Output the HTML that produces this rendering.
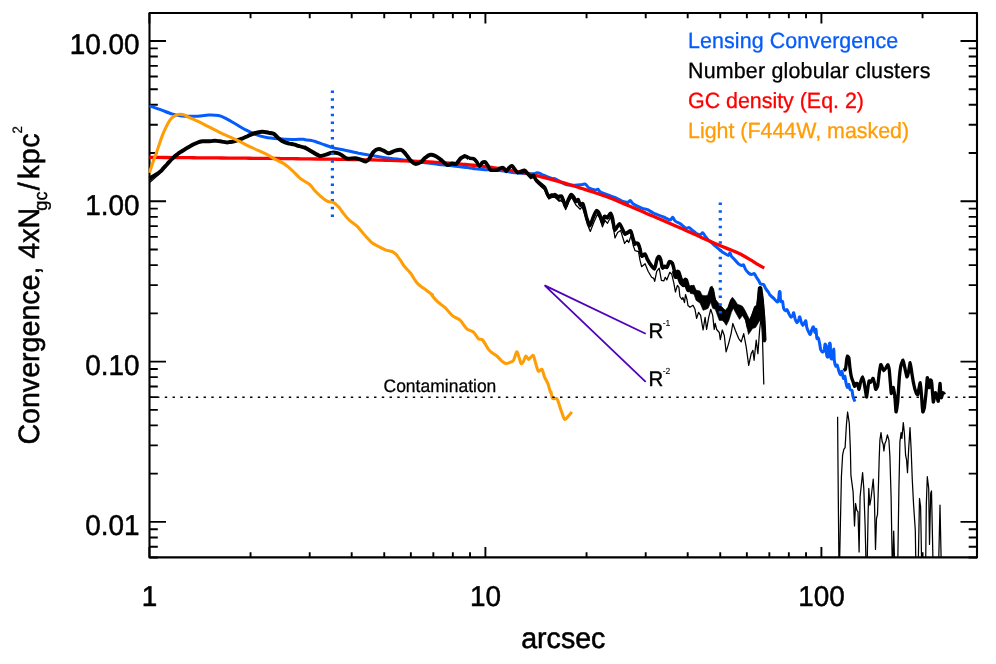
<!DOCTYPE html>
<html><head><meta charset="utf-8"><title>plot</title>
<style>
html,body{margin:0;padding:0;background:#fff;}
svg{display:block;font-family:"Liberation Sans",sans-serif;-webkit-font-smoothing:antialiased;text-rendering:geometricPrecision;}
#wrap{width:996px;height:664px;will-change:transform;transform:translateZ(0);background:#fff;}
</style></head><body>
<div id="wrap">
<svg width="996" height="664" viewBox="0 0 996 664">
<defs><clipPath id="cp"><rect x="148.3" y="12.0" width="829.9" height="545.9"/></clipPath></defs>
<rect width="996" height="664" fill="#fff"/>
<rect x="149.5" y="13.0" width="827.5" height="544.4" fill="none" stroke="#000" stroke-width="2.1" stroke-linejoin="round"/>
<path d="M149.40 557.4 v-10.5 M149.40 13.0 v10.5 M250.55 557.4 v-5.2 M250.55 13.0 v5.2 M309.71 557.4 v-5.2 M309.71 13.0 v5.2 M351.69 557.4 v-5.2 M351.69 13.0 v5.2 M384.25 557.4 v-5.2 M384.25 13.0 v5.2 M410.86 557.4 v-5.2 M410.86 13.0 v5.2 M433.35 557.4 v-5.2 M433.35 13.0 v5.2 M452.84 557.4 v-5.2 M452.84 13.0 v5.2 M470.03 557.4 v-5.2 M470.03 13.0 v5.2 M485.40 557.4 v-10.5 M485.40 13.0 v10.5 M586.55 557.4 v-5.2 M586.55 13.0 v5.2 M645.71 557.4 v-5.2 M645.71 13.0 v5.2 M687.69 557.4 v-5.2 M687.69 13.0 v5.2 M720.25 557.4 v-5.2 M720.25 13.0 v5.2 M746.86 557.4 v-5.2 M746.86 13.0 v5.2 M769.35 557.4 v-5.2 M769.35 13.0 v5.2 M788.84 557.4 v-5.2 M788.84 13.0 v5.2 M806.03 557.4 v-5.2 M806.03 13.0 v5.2 M821.40 557.4 v-10.5 M821.40 13.0 v10.5 M922.55 557.4 v-5.2 M922.55 13.0 v5.2 M149.5 557.46 h8.3 M977.0 557.46 h-8.3 M149.5 546.73 h8.3 M977.0 546.73 h-8.3 M149.5 537.43 h8.3 M977.0 537.43 h-8.3 M149.5 529.23 h8.3 M977.0 529.23 h-8.3 M149.5 521.90 h16.5 M977.0 521.90 h-16.5 M149.5 473.64 h8.3 M977.0 473.64 h-8.3 M149.5 445.42 h8.3 M977.0 445.42 h-8.3 M149.5 425.39 h8.3 M977.0 425.39 h-8.3 M149.5 409.86 h8.3 M977.0 409.86 h-8.3 M149.5 397.16 h8.3 M977.0 397.16 h-8.3 M149.5 386.43 h8.3 M977.0 386.43 h-8.3 M149.5 377.13 h8.3 M977.0 377.13 h-8.3 M149.5 368.93 h8.3 M977.0 368.93 h-8.3 M149.5 361.60 h16.5 M977.0 361.60 h-16.5 M149.5 313.34 h8.3 M977.0 313.34 h-8.3 M149.5 285.12 h8.3 M977.0 285.12 h-8.3 M149.5 265.09 h8.3 M977.0 265.09 h-8.3 M149.5 249.56 h8.3 M977.0 249.56 h-8.3 M149.5 236.86 h8.3 M977.0 236.86 h-8.3 M149.5 226.13 h8.3 M977.0 226.13 h-8.3 M149.5 216.83 h8.3 M977.0 216.83 h-8.3 M149.5 208.63 h8.3 M977.0 208.63 h-8.3 M149.5 201.30 h16.5 M977.0 201.30 h-16.5 M149.5 153.04 h8.3 M977.0 153.04 h-8.3 M149.5 124.82 h8.3 M977.0 124.82 h-8.3 M149.5 104.79 h8.3 M977.0 104.79 h-8.3 M149.5 89.26 h8.3 M977.0 89.26 h-8.3 M149.5 76.56 h8.3 M977.0 76.56 h-8.3 M149.5 65.83 h8.3 M977.0 65.83 h-8.3 M149.5 56.53 h8.3 M977.0 56.53 h-8.3 M149.5 48.33 h8.3 M977.0 48.33 h-8.3 M149.5 41.00 h16.5 M977.0 41.00 h-16.5" stroke="#000" stroke-width="1.9" fill="none"/>
<g clip-path="url(#cp)">
<path d="M149.5 105.9 C151.1 106.5 158.8 109.0 161.7 110.1 C164.7 111.2 169.1 113.2 171.8 113.9 C174.4 114.7 178.7 115.6 181.8 115.9 C184.9 116.3 191.6 116.4 195.2 116.3 C198.7 116.2 205.4 115.2 208.5 115.1 C211.6 115.0 216.3 115.2 218.6 115.6 C220.8 116.0 223.0 117.0 225.2 118.1 C227.5 119.2 232.6 122.3 235.3 123.8 C237.9 125.3 242.6 128.2 245.3 129.7 C248.0 131.1 252.7 133.3 255.3 134.3 C258.0 135.3 262.2 136.6 265.4 137.2 C268.5 137.8 275.2 138.5 278.7 138.8 C282.3 139.2 288.8 139.5 292.1 139.5 C295.5 139.6 302.1 139.1 303.8 139.2 C305.5 139.2 303.9 139.6 305.0 139.8 C306.1 140.0 309.5 139.9 311.7 140.5 C313.9 141.0 318.9 142.8 321.7 143.8 C324.5 144.8 329.5 146.8 332.6 147.6 C335.7 148.5 341.7 149.4 345.1 150.2 C348.6 150.9 354.9 152.4 358.5 153.2 C362.1 153.9 368.3 154.9 371.9 155.5 C375.4 156.1 381.7 157.2 385.2 157.7 C388.8 158.2 395.1 158.9 398.6 159.3 C402.2 159.8 408.4 160.7 412.0 161.2 C415.6 161.6 421.8 162.3 425.4 162.7 C428.9 163.1 435.2 164.0 438.7 164.4 C442.3 164.8 448.5 165.3 452.1 165.7 C455.7 166.1 463.8 167.2 465.5 167.4 C467.2 167.6 463.7 166.9 465.0 167.1 C466.3 167.3 472.4 168.5 475.0 168.8 C477.7 169.1 481.9 169.5 485.1 169.7 C488.2 169.8 494.4 169.7 498.4 170.2 C502.4 170.6 510.7 172.2 515.1 172.7 C519.6 173.2 529.0 173.8 531.9 173.8 C534.8 173.9 535.9 172.9 536.9 172.8 C537.9 172.7 538.5 172.8 539.4 173.2 C540.3 173.5 541.9 174.5 543.6 175.2 C545.2 175.9 550.4 178.0 551.9 178.5 C553.5 179.0 553.5 178.1 555.3 178.8 C557.1 179.6 562.6 183.5 565.3 184.4 C568.0 185.2 573.1 185.2 575.3 185.2 C577.6 185.2 580.7 184.7 582.0 184.6 C583.4 184.4 584.5 183.6 585.4 184.1 C586.3 184.5 587.4 187.0 588.7 187.8 C590.0 188.6 594.2 189.9 595.4 190.1 C596.6 190.2 597.2 189.0 597.9 189.2 C598.6 189.5 599.2 191.4 600.4 192.1 C601.6 192.9 605.1 194.0 607.1 194.7 C609.1 195.5 613.4 196.9 615.5 197.7 C617.5 198.6 620.5 200.5 622.1 201.1 C623.8 201.8 627.6 202.3 628.0 202.5 C628.4 202.7 625.0 202.7 625.0 202.6 C625.0 202.5 627.6 202.2 628.3 202.0 C629.1 201.7 629.7 200.4 630.4 200.6 C631.0 200.9 631.8 203.0 633.4 204.0 C634.9 205.0 639.8 207.3 641.7 208.1 C643.6 208.9 646.0 209.1 647.6 209.7 C649.1 210.4 651.3 212.0 653.4 213.0 C655.5 214.0 661.2 216.1 663.5 217.0 C665.7 217.9 668.9 219.9 670.1 219.9 C671.4 219.9 672.0 217.1 672.6 217.2 C673.3 217.4 674.2 220.2 675.1 221.0 C676.1 221.9 679.1 223.1 680.0 223.6 C680.9 224.2 681.2 224.5 682.0 225.1 C682.8 225.7 685.1 227.8 686.0 228.1 C687.0 228.5 688.3 227.3 689.1 227.6 C689.9 227.9 691.2 229.4 692.1 230.1 C693.1 230.9 695.1 232.6 696.1 233.2 C697.2 233.8 699.3 234.7 700.2 234.7 C701.1 234.6 702.0 232.5 702.7 232.7 C703.4 232.9 704.5 235.2 705.2 236.2 C706.0 237.1 707.2 238.6 708.2 239.7 C709.3 240.8 712.1 243.2 713.3 244.3 C714.5 245.3 716.4 247.0 717.3 247.8 C718.3 248.6 719.4 249.6 720.4 250.3 C721.3 251.1 723.3 252.7 724.4 253.3 C725.5 254.0 727.7 255.4 728.4 255.4 C729.2 255.3 729.5 252.7 730.0 252.8 C730.4 253.0 730.9 255.5 731.5 256.4 C732.1 257.2 733.5 258.4 734.5 259.4 C735.4 260.4 737.6 263.1 738.5 263.9 C739.5 264.7 740.9 265.3 741.5 265.4 C742.2 265.6 743.0 264.4 743.6 264.9 C744.1 265.5 744.9 268.4 745.6 269.5 C746.3 270.6 747.8 272.3 748.6 273.0 C749.4 273.7 750.9 274.5 751.6 274.5 C752.4 274.6 753.5 273.1 754.2 273.5 C754.8 273.9 756.1 276.6 756.7 277.6 C757.3 278.5 758.2 279.7 758.7 280.6 C759.2 281.5 760.0 283.5 760.6 284.1 C761.3 284.6 763.0 284.0 763.7 284.6 C764.3 285.2 765.0 287.5 765.7 288.6 C766.4 289.7 768.1 291.8 768.7 292.7 C769.3 293.5 769.3 294.3 770.0 295.1 C770.7 295.9 773.1 297.7 774.0 298.6 C775.0 299.6 776.5 302.1 777.1 302.1 C777.7 302.2 778.3 300.4 778.6 299.1 C778.9 297.8 779.1 293.2 779.3 292.3 C779.5 291.4 779.9 291.1 780.1 292.3 C780.3 293.5 780.3 299.9 780.6 301.1 C780.9 302.4 782.2 300.7 782.6 301.6 C783.0 302.6 783.2 307.0 783.6 308.2 C784.0 309.4 785.2 310.5 785.6 310.7 C786.1 310.9 786.7 309.2 787.1 309.7 C787.6 310.2 788.6 313.3 789.2 314.3 C789.7 315.3 790.7 317.2 791.2 317.3 C791.7 317.4 792.4 315.9 792.7 315.3 C793.0 314.7 793.4 312.2 793.7 312.8 C794.0 313.3 794.8 318.0 795.2 319.3 C795.7 320.7 796.8 322.8 797.2 322.8 C797.7 322.8 798.4 320.1 798.8 319.3 C799.1 318.5 799.4 316.4 799.8 316.8 C800.1 317.2 800.9 321.2 801.3 322.3 C801.7 323.5 802.4 325.2 802.8 325.4 C803.2 325.5 803.9 324.0 804.3 323.4 C804.7 322.7 805.5 320.3 805.8 320.8 C806.2 321.4 806.4 325.8 806.8 327.4 C807.2 328.9 808.4 331.5 808.9 332.4 C809.3 333.4 810.0 334.9 810.4 334.4 C810.8 334.0 811.5 330.4 811.9 329.4 C812.3 328.4 813.0 326.5 813.4 326.9 C813.8 327.3 814.6 332.1 814.9 332.4 C815.2 332.8 815.6 328.6 815.9 329.4 C816.2 330.2 816.6 337.3 816.9 338.5 C817.3 339.6 818.0 337.0 818.4 338.0 C818.8 338.9 819.7 344.0 820.0 345.5 C820.2 347.1 820.3 348.7 820.7 349.6 C821.1 350.5 822.2 352.0 822.7 352.1 C823.2 352.2 823.9 351.1 824.2 350.1 C824.5 349.0 824.8 344.8 825.0 344.2 C825.3 343.7 825.8 344.6 826.0 346.1 C826.3 347.5 826.4 353.7 826.7 355.1 C827.0 356.6 827.9 358.1 828.2 356.6 C828.6 355.2 829.0 345.9 829.3 344.2 C829.5 342.6 830.1 342.5 830.3 344.2 C830.5 346.0 830.5 355.8 830.8 357.7 C831.0 359.5 831.9 359.3 832.3 358.2 C832.7 357.0 833.5 348.8 833.8 349.1 C834.1 349.3 834.0 357.9 834.3 360.2 C834.6 362.5 835.4 365.6 835.8 366.2 C836.2 366.9 836.9 364.6 837.3 365.2 C837.7 365.9 838.4 370.0 838.9 371.3 C839.3 372.6 840.0 374.8 840.4 374.8 C840.8 374.8 841.5 370.8 841.9 371.3 C842.3 371.8 843.0 377.7 843.4 378.4 C843.8 379.0 844.6 375.8 844.9 376.3 C845.2 376.9 845.6 380.9 845.9 382.4 C846.2 383.9 847.0 387.2 847.4 387.4 C847.8 387.7 848.6 384.1 848.9 384.4 C849.3 384.7 849.5 388.6 850.0 389.4 C850.4 390.3 851.6 389.5 852.0 390.4 C852.4 391.4 852.6 395.0 853.0 396.5 C853.4 398.0 854.7 400.9 855.0 401.6" stroke="#045cfc" stroke-width="3.0" fill="none" stroke-linejoin="round" stroke-linecap="butt" />
<path d="M149.4 157.4 C150.7 157.4 154.7 157.4 157.4 157.4 C160.1 157.5 162.7 157.5 165.4 157.5 C168.1 157.5 170.7 157.5 173.4 157.6 C176.1 157.6 178.7 157.6 181.4 157.6 C184.1 157.7 186.7 157.7 189.4 157.7 C192.1 157.7 194.7 157.8 197.4 157.8 C200.1 157.8 202.7 157.8 205.4 157.8 C208.1 157.9 210.7 157.9 213.4 157.9 C216.1 157.9 218.7 158.0 221.4 158.0 C224.1 158.0 226.7 158.0 229.4 158.1 C232.1 158.1 234.7 158.1 237.4 158.1 C240.1 158.2 242.7 158.2 245.4 158.2 C248.1 158.2 250.7 158.3 253.4 158.3 C256.1 158.3 258.7 158.3 261.4 158.4 C264.1 158.4 266.7 158.4 269.4 158.4 C272.1 158.5 274.7 158.5 277.4 158.5 C280.1 158.5 282.7 158.6 285.4 158.6 C288.1 158.6 290.7 158.7 293.4 158.7 C296.1 158.7 298.7 158.8 301.4 158.8 C304.1 158.8 306.7 158.8 309.4 158.9 C312.1 158.9 314.7 158.9 317.4 159.0 C320.1 159.0 322.7 159.1 325.4 159.1 C328.1 159.1 330.7 159.2 333.4 159.2 C336.1 159.2 338.7 159.3 341.4 159.3 C344.1 159.4 346.7 159.4 349.4 159.5 C352.1 159.5 354.7 159.6 357.4 159.6 C360.1 159.7 362.7 159.7 365.4 159.8 C368.1 159.8 370.7 159.9 373.4 159.9 C376.1 160.0 378.7 160.1 381.4 160.1 C384.1 160.2 386.7 160.3 389.4 160.4 C392.1 160.4 394.7 160.5 397.4 160.6 C400.1 160.7 402.7 160.8 405.4 160.9 C408.1 161.0 410.7 161.1 413.4 161.2 C416.1 161.3 418.7 161.4 421.4 161.5 C424.1 161.7 426.7 161.8 429.4 161.9 C432.1 162.1 434.7 162.2 437.4 162.4 C440.1 162.5 442.7 162.7 445.4 162.9 C448.1 163.1 450.7 163.2 453.4 163.4 C456.1 163.7 458.7 163.9 461.4 164.1 C464.1 164.3 466.7 164.6 469.4 164.8 C472.1 165.1 474.7 165.4 477.4 165.7 C480.1 166.0 482.7 166.3 485.4 166.6 C488.1 167.0 490.7 167.3 493.4 167.7 C496.1 168.0 498.7 168.4 501.4 168.8 C504.1 169.3 506.7 169.7 509.4 170.2 C512.1 170.6 514.7 171.1 517.4 171.6 C520.1 172.1 522.7 172.6 525.4 173.2 C528.1 173.8 530.7 174.3 533.4 174.9 C536.1 175.5 538.7 176.2 541.4 176.8 C544.1 177.5 546.7 178.2 549.4 178.9 C552.1 179.6 554.7 180.3 557.4 181.1 C560.1 181.8 562.7 182.6 565.4 183.4 C568.1 184.2 570.7 185.0 573.4 185.8 C576.1 186.7 578.7 187.5 581.4 188.3 C584.1 189.2 586.7 190.0 589.4 190.9 C592.1 191.7 594.7 192.6 597.4 193.5 C600.1 194.4 602.7 195.3 605.4 196.3 C608.1 197.3 610.7 198.3 613.4 199.3 C616.1 200.4 618.7 201.5 621.4 202.6 C624.1 203.7 626.7 204.8 629.4 206.0 C632.1 207.1 634.7 208.3 637.4 209.4 C640.1 210.6 642.7 211.8 645.4 212.9 C648.1 214.1 650.7 215.2 653.4 216.3 C656.1 217.5 658.7 218.6 661.4 219.7 C664.1 220.9 666.7 222.0 669.4 223.2 C672.1 224.4 674.7 225.5 677.4 226.7 C680.1 227.9 682.7 229.1 685.4 230.2 C688.1 231.4 690.7 232.6 693.4 233.8 C696.1 235.0 698.7 236.2 701.4 237.4 C704.1 238.6 706.7 239.8 709.4 241.0 C712.1 242.2 713.9 243.1 717.4 244.6 C720.9 246.1 727.3 248.5 730.5 249.8 C733.7 251.1 734.5 251.4 736.5 252.3 C738.5 253.2 740.2 253.9 742.6 255.2 C745.0 256.5 748.1 258.4 750.6 259.9 C753.1 261.4 755.4 263.0 757.7 264.4 C760.0 265.8 763.2 267.4 764.3 268.0" stroke="#ff0000" stroke-width="3.3" fill="none" stroke-linejoin="round" stroke-linecap="butt" />
<path d="M149.5 182.6 L152.0 180.5 L155.0 177.9 L158.0 175.1 L161.0 171.9 L163.5 168.2 L167.1 164.2 L170.6 160.3 L174.2 156.8 L177.7 154.0 L181.2 151.6 L184.8 149.4 L188.3 147.3 L191.8 145.2 L195.4 143.5 L198.9 142.0 L202.5 141.3 L206.0 141.3 L209.5 141.3 L213.1 140.9 L216.6 140.9 L220.2 141.3 L223.7 141.9 L227.2 142.4 L230.0 142.0 L232.8 141.6 L237.8 140.1 L241.9 138.6 L247.0 136.5 L253.7 133.5 L262.0 131.8 L268.7 132.7 L273.7 133.8 L277.9 137.7 L282.1 141.0 L288.8 143.5 L293.8 144.4 L298.8 146.0 L304.6 147.7 L305.0 147.6 L311.7 151.5 L320.1 156.0 L326.7 154.3 L331.8 152.7 L337.6 153.2 L341.8 155.2 L346.8 158.5 L355.1 158.2 L360.2 159.3 L366.0 161.5 L369.4 158.5 L373.5 151.8 L378.6 149.0 L383.6 150.7 L388.6 153.2 L395.3 150.7 L401.1 149.8 L405.3 153.5 L410.3 160.2 L415.3 163.9 L421.2 161.8 L425.4 157.7 L430.4 154.8 L435.4 156.0 L440.4 159.3 L447.1 164.9 L452.1 163.5 L456.3 163.9 L460.5 158.5 L463.8 156.5 L465.0 156.2 L469.0 158.2 L473.6 159.9 L476.6 162.9 L479.6 167.4 L482.1 163.9 L485.2 163.2 L487.7 166.4 L490.2 171.0 L493.2 171.5 L497.3 171.3 L500.3 169.4 L503.4 168.9 L506.4 172.5 L508.9 168.9 L511.9 166.9 L514.5 170.0 L517.5 173.7 L521.5 173.5 L524.5 172.3 L527.6 175.3 L530.6 178.6 L533.6 177.5 L535.6 181.6 L538.7 184.6 L541.7 187.2 L544.7 189.9 L546.7 195.0 L548.8 199.0 L551.8 197.5 L554.8 197.3 L557.8 200.0 L559.9 201.1 L562.4 199.0 L563.9 203.1 L555.0 197.1 L559.0 201.2 L562.1 199.1 L564.1 204.2 L565.6 209.7 L568.6 202.2 L571.6 197.1 L575.7 204.7 L580.2 209.2 L582.2 206.7 L585.3 216.3 L587.3 224.3 L590.3 231.4 L593.9 222.3 L597.4 214.3 L599.9 218.3 L602.4 226.9 L605.0 220.3 L607.5 223.3 L610.5 217.3 L613.0 225.4 L615.0 238.0 L617.6 232.4 L620.6 230.4 L624.6 243.5 L627.1 240.0 L628.7 242.5 L631.2 235.4 L633.2 245.5 L635.0 250.6 L638.5 251.6 L640.0 260.2 L641.6 266.7 L645.1 263.7 L648.1 271.3 L651.6 277.3 L653.7 278.4 L654.7 281.4 L656.7 271.3 L659.2 268.2 L661.4 280.4 L663.8 280.9 L665.3 277.3 L666.8 279.9 L669.8 272.3 L671.8 274.3 L673.9 283.4 L675.4 292.0 L677.4 285.4 L678.9 287.4 L679.9 296.5 L681.9 299.5 L682.9 297.5 L684.5 302.6 L685.5 294.5 L687.0 299.5 L688.0 305.6 L690.0 307.3 L693.0 305.3 L695.0 309.3 L696.6 318.4 L698.6 312.3 L700.6 315.4 L703.1 330.0 L705.1 317.4 L706.6 329.5 L708.7 317.4 L710.7 309.3 L712.7 315.4 L714.2 329.5 L715.2 323.4 L716.7 329.5 L719.3 332.5 L720.3 339.6 L722.3 330.0 L724.3 335.5 L726.1 351.9 L728.6 343.6 L731.1 333.6 L732.8 323.5 L735.3 330.2 L738.7 338.6 L741.2 341.9 L743.7 333.6 L746.2 346.9 L748.7 365.3 L751.2 353.6 L752.9 350.3 L754.1 360.3 L756.2 340.2 L757.9 353.6 L759.6 330.2 L761.2 316.8 L762.4 335.2 L763.8 384.4" stroke="#000" stroke-width="1.25" fill="none" stroke-linejoin="round" stroke-linecap="butt" />
<path d="M149.5 180.6 C149.8 180.3 151.3 179.3 152.0 178.7 C152.7 178.1 154.2 177.0 155.0 176.4 C155.8 175.8 157.2 174.6 158.0 173.9 C158.8 173.2 160.3 171.8 161.0 171.1 C161.7 170.3 162.7 169.0 163.5 168.1 C164.3 167.2 166.2 165.2 167.1 164.2 C168.0 163.1 169.7 161.3 170.6 160.3 C171.5 159.3 173.3 157.7 174.2 156.8 C175.1 156.0 176.8 154.7 177.7 154.0 C178.6 153.3 180.3 152.2 181.2 151.6 C182.1 151.0 183.9 150.0 184.8 149.4 C185.7 148.8 187.4 147.8 188.3 147.3 C189.2 146.7 190.9 145.7 191.8 145.2 C192.7 144.7 194.5 143.9 195.4 143.5 C196.3 143.1 198.0 142.3 198.9 142.0 C199.8 141.8 201.6 141.4 202.5 141.3 C203.4 141.2 205.1 141.4 206.0 141.3 C206.9 141.3 208.6 141.4 209.5 141.3 C210.4 141.2 212.2 141.0 213.1 140.9 C214.0 140.8 215.7 140.8 216.6 140.9 C217.5 141.0 219.3 141.2 220.2 141.3 C221.1 141.4 222.8 141.8 223.7 141.9 C224.6 142.0 226.4 142.4 227.2 142.4 C228.0 142.4 229.3 142.1 230.0 142.0 C230.7 141.9 231.8 141.9 232.8 141.6 C233.8 141.3 236.6 140.5 237.8 140.1 C239.0 139.7 240.7 139.1 241.9 138.6 C243.1 138.1 245.4 137.2 247.0 136.5 C248.5 135.8 251.7 134.1 253.7 133.5 C255.7 132.9 260.0 131.9 262.0 131.8 C264.0 131.7 267.1 132.4 268.7 132.7 C270.3 132.9 272.5 133.2 273.7 133.8 C274.9 134.5 276.8 136.7 277.9 137.7 C279.0 138.6 280.6 140.2 282.1 141.0 C283.5 141.8 287.2 143.1 288.8 143.5 C290.3 144.0 292.4 144.0 293.8 144.4 C295.1 144.7 297.4 145.6 298.8 146.0 C300.2 146.5 303.8 147.5 304.6 147.7 C305.5 147.9 304.1 147.1 305.0 147.6 C305.9 148.1 309.7 150.4 311.7 151.5 C313.7 152.6 318.0 155.6 320.1 156.0 C322.1 156.4 325.2 154.8 326.7 154.3 C328.3 153.9 330.3 152.8 331.8 152.7 C333.2 152.5 336.3 152.8 337.6 153.2 C338.9 153.5 340.6 154.5 341.8 155.2 C343.0 155.9 345.0 158.1 346.8 158.5 C348.6 158.9 353.4 158.1 355.1 158.2 C356.9 158.3 358.7 158.9 360.2 159.3 C361.6 159.8 364.8 161.6 366.0 161.5 C367.2 161.4 368.4 159.8 369.4 158.5 C370.4 157.2 372.3 153.1 373.5 151.8 C374.8 150.5 377.2 149.1 378.6 149.0 C379.9 148.8 382.2 150.1 383.6 150.7 C384.9 151.2 387.0 153.2 388.6 153.2 C390.1 153.2 393.6 151.1 395.3 150.7 C396.9 150.2 399.8 149.4 401.1 149.8 C402.5 150.2 404.1 152.1 405.3 153.5 C406.5 154.9 409.0 158.8 410.3 160.2 C411.7 161.6 413.9 163.6 415.3 163.9 C416.8 164.1 419.8 162.7 421.2 161.8 C422.5 161.0 424.1 158.6 425.4 157.7 C426.6 156.7 429.0 155.1 430.4 154.8 C431.7 154.6 434.1 155.4 435.4 156.0 C436.7 156.6 438.9 158.2 440.4 159.3 C442.0 160.5 445.5 164.3 447.1 164.9 C448.6 165.4 450.9 163.7 452.1 163.5 C453.3 163.4 455.2 164.5 456.3 163.9 C457.4 163.2 459.5 159.5 460.5 158.5 C461.5 157.5 463.2 156.8 463.8 156.5 C464.4 156.2 464.3 155.9 465.0 156.2 C465.7 156.4 467.9 157.8 469.0 158.2 C470.2 158.5 472.6 158.3 473.6 158.8 C474.6 159.2 475.8 160.8 476.6 161.8 C477.4 162.9 478.9 166.3 479.6 166.4 C480.4 166.6 481.4 163.5 482.1 163.0 C482.9 162.4 484.4 162.0 485.2 162.3 C485.9 162.7 487.0 164.6 487.7 165.6 C488.4 166.7 489.5 169.5 490.2 170.2 C491.0 170.9 492.3 170.7 493.2 170.8 C494.2 170.8 496.3 170.9 497.3 170.7 C498.2 170.4 499.5 169.2 500.3 168.9 C501.1 168.6 502.5 168.0 503.4 168.5 C504.2 168.9 505.6 172.0 506.4 172.1 C507.1 172.1 508.2 169.3 508.9 168.6 C509.6 167.9 511.2 166.5 511.9 166.6 C512.7 166.8 513.7 168.8 514.5 169.7 C515.2 170.6 516.7 173.1 517.5 173.5 C518.3 173.9 519.6 172.8 520.5 172.6 C521.4 172.3 523.6 171.2 524.5 171.4 C525.5 171.7 526.8 173.7 527.6 174.5 C528.4 175.4 529.8 177.3 530.6 177.6 C531.4 177.9 532.9 176.3 533.6 176.7 C534.3 177.1 535.0 179.8 535.6 180.8 C536.3 181.7 537.9 183.1 538.7 183.8 C539.5 184.6 540.9 186.0 541.7 186.7 C542.5 187.4 544.0 188.2 544.7 189.2 C545.4 190.2 546.2 193.1 546.7 194.3 C547.3 195.5 548.1 198.0 548.8 198.3 C549.4 198.6 551.0 197.0 551.8 196.8 C552.6 196.6 554.4 196.8 554.8 196.8 C555.2 196.7 554.6 196.2 555.0 196.4 C555.4 196.6 557.2 198.2 558.0 198.4 C558.9 198.6 560.8 197.3 561.6 197.9 C562.3 198.5 563.0 201.5 563.6 202.9 C564.1 204.4 565.0 208.6 565.6 208.5 C566.2 208.4 567.4 203.6 568.1 201.9 C568.9 200.3 570.4 196.8 571.1 196.4 C571.9 196.0 573.1 198.0 573.7 198.9 C574.3 199.8 575.1 202.6 575.7 202.9 C576.3 203.3 577.6 201.0 578.2 201.4 C578.8 201.9 579.6 205.9 580.2 206.5 C580.8 207.0 582.1 204.7 582.8 205.5 C583.4 206.2 584.2 210.1 584.8 212.0 C585.3 214.0 586.1 218.1 586.8 220.1 C587.5 222.1 589.0 227.2 589.8 227.2 C590.6 227.2 592.0 222.1 592.8 220.1 C593.7 218.1 595.5 213.1 596.4 212.5 C597.2 211.9 598.6 214.0 599.4 215.6 C600.2 217.1 601.8 223.8 602.4 224.1 C603.1 224.5 603.8 218.8 604.5 218.1 C605.1 217.4 606.7 219.5 607.5 219.1 C608.3 218.7 609.8 214.9 610.5 215.1 C611.2 215.2 612.0 217.9 612.5 220.1 C613.1 222.3 613.9 230.1 614.5 231.2 C615.1 232.3 616.4 229.4 617.1 228.7 C617.7 227.9 618.9 225.4 619.6 225.7 C620.3 225.9 621.4 228.9 622.1 230.2 C622.8 231.5 623.9 234.7 624.6 235.2 C625.4 235.8 626.8 234.6 627.6 234.2 C628.5 233.9 630.0 232.0 630.7 232.7 C631.4 233.4 632.2 237.6 632.7 239.3 C633.2 241.0 634.4 244.6 634.7 245.3 C635.0 246.1 634.6 244.8 635.0 244.8 C635.4 244.8 637.4 244.5 638.0 245.3 C638.7 246.1 639.6 249.3 640.0 250.9 C640.5 252.5 640.9 256.8 641.6 257.4 C642.2 258.1 644.3 255.4 645.1 255.9 C645.9 256.5 646.8 260.0 647.6 261.5 C648.4 263.0 650.2 265.9 651.1 267.0 C652.1 268.2 653.9 270.7 654.7 270.1 C655.4 269.4 656.2 263.5 656.7 262.0 C657.2 260.4 658.2 258.5 658.7 258.4 C659.2 258.4 660.3 260.1 660.7 261.5 C661.2 262.9 661.7 268.2 662.2 269.1 C662.8 269.9 664.1 268.1 664.8 268.0 C665.4 268.0 666.7 269.1 667.3 268.5 C667.9 267.9 668.6 264.0 669.3 263.5 C670.0 263.0 671.7 263.8 672.3 265.0 C673.0 266.2 673.9 270.8 674.4 272.6 C674.8 274.3 675.4 277.9 675.9 278.1 C676.3 278.3 677.4 273.8 677.9 274.1 C678.4 274.4 679.4 278.8 679.9 280.1 C680.4 281.5 680.9 283.4 681.4 284.2 C681.9 285.0 682.9 286.5 683.4 286.2 C684.0 285.9 685.0 282.0 685.5 282.2 C685.9 282.3 686.6 286.0 687.0 287.2 C687.4 288.4 688.3 290.7 688.5 291.2" stroke="#000" stroke-width="1.25" fill="none" stroke-linejoin="round" stroke-linecap="butt" />
<path d="M837.6 416.7 L837.9 455.0 L838.9 562.0 M839.6 562.0 L841.4 476.7 L842.6 455.2 L843.8 449.3 L845.1 447.6 L846.4 425.1 L847.6 412.0 L849.3 423.4 L850.4 450.1 L850.9 475.1 L853.1 491.8 L854.5 526.0 L855.6 503.5 L856.8 510.2 L858.0 511.8 L859.1 552.0 L860.1 496.8 L862.6 472.6 L863.8 488.4 L865.1 525.2 L866.0 562.0 M867.2 562.0 L868.2 510.2 L868.8 488.4 L869.8 505.1 L871.0 498.5 L873.2 479.2 L874.4 498.5 L875.5 549.5 L876.5 518.5 L877.5 514.4 L878.5 483.4 L879.2 458.5 L879.9 440.1 L881.0 432.6 L882.2 441.8 L883.2 444.3 L883.9 451.0 L884.9 443.5 L886.0 441.0 L887.4 434.8 L888.9 440.1 L889.9 456.8 L891.1 496.8 L892.2 562.0 M892.9 562.0 L893.7 531.1 L894.6 562.0 M897.8 562.0 L898.9 488.4 L899.4 466.9 L899.9 441.8 L901.1 432.6 L901.9 438.4 L903.3 422.6 L904.4 433.4 L905.6 455.2 L906.6 460.2 L907.5 472.7 L908.6 450.1 L910.0 427.6 L911.1 448.5 L912.3 480.1 L913.6 505.1 L915.3 530.2 L915.8 562.0 M918.3 562.0 L919.5 498.5 L920.6 506.8 L921.6 562.0 M925.7 562.0 L926.3 505.1 L927.3 476.7 L928.7 488.4 L929.5 544.4 L930.7 493.4 L931.5 490.9 L932.5 538.6 L933.0 562.0 M938.7 562.0 L940.0 505.1 L941.2 562.0" stroke="#000" stroke-width="1.25" fill="none" stroke-linejoin="round" stroke-linecap="butt" />
<path d="M149.5 178.3 C149.8 178.1 151.3 177.3 152.0 176.9 C152.7 176.5 154.2 175.7 155.0 175.2 C155.8 174.7 157.2 173.9 158.0 173.3 C158.8 172.7 160.3 171.7 161.0 171.1 C161.7 170.4 162.7 169.0 163.5 168.1 C164.3 167.2 166.2 165.2 167.1 164.2 C168.0 163.1 169.7 161.3 170.6 160.3 C171.5 159.3 173.3 157.7 174.2 156.8 C175.1 156.0 176.8 154.7 177.7 154.0 C178.6 153.3 180.3 152.2 181.2 151.6 C182.1 151.0 183.9 150.0 184.8 149.4 C185.7 148.8 187.4 147.8 188.3 147.3 C189.2 146.7 190.9 145.7 191.8 145.2 C192.7 144.7 194.5 143.9 195.4 143.5 C196.3 143.1 198.0 142.3 198.9 142.0 C199.8 141.8 201.6 141.4 202.5 141.3 C203.4 141.2 205.1 141.4 206.0 141.3 C206.9 141.3 208.6 141.4 209.5 141.3 C210.4 141.2 212.2 141.0 213.1 140.9 C214.0 140.8 215.7 140.8 216.6 140.9 C217.5 141.0 219.3 141.2 220.2 141.3 C221.1 141.4 222.8 141.8 223.7 141.9 C224.6 142.0 226.4 142.4 227.2 142.4 C228.0 142.4 229.3 142.1 230.0 142.0 C230.7 141.9 231.8 141.9 232.8 141.6 C233.8 141.3 236.6 140.5 237.8 140.1 C239.0 139.7 240.7 139.1 241.9 138.6 C243.1 138.1 245.4 137.2 247.0 136.5 C248.5 135.8 251.7 134.1 253.7 133.5 C255.7 132.9 260.0 131.9 262.0 131.8 C264.0 131.7 267.1 132.4 268.7 132.7 C270.3 132.9 272.5 133.2 273.7 133.8 C274.9 134.5 276.8 136.7 277.9 137.7 C279.0 138.6 280.6 140.2 282.1 141.0 C283.5 141.8 287.2 143.1 288.8 143.5 C290.3 144.0 292.4 144.0 293.8 144.4 C295.1 144.7 297.4 145.6 298.8 146.0 C300.2 146.5 303.8 147.5 304.6 147.7 C305.5 147.9 304.1 147.1 305.0 147.6 C305.9 148.1 309.7 150.4 311.7 151.5 C313.7 152.6 318.0 155.6 320.1 156.0 C322.1 156.4 325.2 154.8 326.7 154.3 C328.3 153.9 330.3 152.8 331.8 152.7 C333.2 152.5 336.3 152.8 337.6 153.2 C338.9 153.5 340.6 154.5 341.8 155.2 C343.0 155.9 345.0 158.1 346.8 158.5 C348.6 158.9 353.4 158.1 355.1 158.2 C356.9 158.3 358.7 158.9 360.2 159.3 C361.6 159.8 364.8 161.6 366.0 161.5 C367.2 161.4 368.4 159.8 369.4 158.5 C370.4 157.2 372.3 153.1 373.5 151.8 C374.8 150.5 377.2 149.1 378.6 149.0 C379.9 148.8 382.2 150.1 383.6 150.7 C384.9 151.2 387.0 153.2 388.6 153.2 C390.1 153.2 393.6 151.1 395.3 150.7 C396.9 150.2 399.8 149.4 401.1 149.8 C402.5 150.2 404.1 152.1 405.3 153.5 C406.5 154.9 409.0 158.8 410.3 160.2 C411.7 161.6 413.9 163.6 415.3 163.9 C416.8 164.1 419.8 162.7 421.2 161.8 C422.5 161.0 424.1 158.6 425.4 157.7 C426.6 156.7 429.0 155.1 430.4 154.8 C431.7 154.6 434.1 155.4 435.4 156.0 C436.7 156.6 438.9 158.2 440.4 159.3 C442.0 160.5 445.5 164.3 447.1 164.9 C448.6 165.4 450.9 163.7 452.1 163.5 C453.3 163.4 455.2 164.5 456.3 163.9 C457.4 163.2 459.5 159.5 460.5 158.5 C461.5 157.5 463.2 156.8 463.8 156.5 C464.4 156.2 464.3 155.9 465.0 156.2 C465.7 156.4 468.5 157.9 469.0 158.2" stroke="#000" stroke-width="3.95" fill="none" stroke-linejoin="round" stroke-linecap="butt" />
<path d="M469.0 158.2 C469.6 158.2 472.6 158.2 473.6 158.7 C474.6 159.1 475.8 160.7 476.6 161.7 C477.4 162.7 478.9 166.1 479.6 166.2 C480.4 166.4 481.4 163.3 482.1 162.7 C482.9 162.1 484.4 161.7 485.2 162.0 C485.9 162.3 487.0 164.2 487.7 165.2 C488.4 166.3 489.5 169.1 490.2 169.8 C491.0 170.4 492.3 170.2 493.2 170.3 C494.2 170.3 496.3 170.3 497.3 170.1 C498.2 169.8 499.5 168.6 500.3 168.2 C501.1 167.9 502.5 167.3 503.4 167.8 C504.2 168.2 505.6 171.3 506.4 171.3 C507.1 171.3 508.2 168.5 508.9 167.8 C509.6 167.0 511.2 165.6 511.9 165.7 C512.7 165.9 513.7 167.9 514.5 168.8 C515.2 169.7 516.7 172.1 517.5 172.5 C518.3 172.9 519.6 171.8 520.5 171.5 C521.4 171.2 523.6 170.0 524.5 170.3 C525.5 170.5 526.8 172.5 527.6 173.3 C528.4 174.1 529.8 176.1 530.6 176.3 C531.4 176.6 532.9 174.9 533.6 175.3 C534.3 175.7 535.0 178.4 535.6 179.3 C536.3 180.3 537.9 181.6 538.7 182.4 C539.5 183.1 540.9 184.2 541.7 184.9 C542.5 185.6 544.0 186.4 544.7 187.4 C545.4 188.4 546.2 191.3 546.7 192.5 C547.3 193.7 548.1 196.2 548.8 196.5 C549.4 196.8 551.0 195.2 551.8 195.0 C552.6 194.8 554.4 195.0 554.8 195.0 C555.2 194.9 554.6 194.4 555.0 194.6 C555.4 194.8 557.2 196.4 558.0 196.6 C558.9 196.8 560.8 195.5 561.6 196.1 C562.3 196.7 563.0 199.7 563.6 201.2 C564.1 202.6 565.0 206.8 565.6 206.7 C566.2 206.6 567.4 201.8 568.1 200.1 C568.9 198.5 570.4 195.0 571.1 194.6 C571.9 194.2 573.1 196.2 573.7 197.1 C574.3 198.0 575.1 200.8 575.7 201.2 C576.3 201.5 577.6 199.2 578.2 199.6 C578.8 200.1 579.6 204.1 580.2 204.7 C580.8 205.2 582.1 202.9 582.8 203.7 C583.4 204.4 584.2 208.3 584.8 210.2 C585.3 212.2 586.1 216.3 586.8 218.3 C587.5 220.3 589.0 225.4 589.8 225.4 C590.6 225.4 592.0 220.3 592.8 218.3 C593.7 216.3 595.5 211.3 596.4 210.7 C597.2 210.1 598.6 212.2 599.4 213.8 C600.2 215.3 601.8 222.0 602.4 222.3 C603.1 222.7 603.8 217.0 604.5 216.3 C605.1 215.6 606.7 217.7 607.5 217.3 C608.3 216.9 609.8 213.1 610.5 213.2 C611.2 213.4 612.0 216.1 612.5 218.3 C613.1 220.5 613.9 228.3 614.5 229.4 C615.1 230.5 616.4 227.6 617.1 226.9 C617.7 226.1 618.9 223.6 619.6 223.8 C620.3 224.1 621.4 227.1 622.1 228.4 C622.8 229.7 623.9 232.9 624.6 233.4 C625.4 234.0 626.8 232.8 627.6 232.4 C628.5 232.1 630.0 230.2 630.7 230.9 C631.4 231.6 632.2 235.8 632.7 237.5 C633.2 239.2 634.4 242.8 634.7 243.5 C635.0 244.3 634.6 243.0 635.0 243.0 C635.4 243.0 637.4 242.7 638.0 243.5 C638.7 244.3 639.6 247.5 640.0 249.1 C640.5 250.7 640.9 255.0 641.6 255.6 C642.2 256.3 644.3 253.6 645.1 254.1 C645.9 254.7 646.8 258.2 647.6 259.7 C648.4 261.2 650.2 264.1 651.1 265.2 C652.1 266.4 653.9 268.9 654.7 268.2 C655.4 267.6 656.2 261.7 656.7 260.2 C657.2 258.6 658.2 256.7 658.7 256.6 C659.2 256.6 660.3 258.3 660.7 259.7 C661.2 261.1 661.7 266.4 662.2 267.2 C662.8 268.1 664.1 266.3 664.8 266.2 C665.4 266.2 666.7 267.3 667.3 266.7 C667.9 266.1 668.6 262.2 669.3 261.7 C670.0 261.2 671.7 262.0 672.3 263.2 C673.0 264.4 673.9 269.0 674.4 270.8 C674.8 272.5 675.4 276.1 675.9 276.3 C676.3 276.5 677.4 272.0 677.9 272.3 C678.4 272.6 679.4 277.0 679.9 278.4 C680.4 279.7 680.9 281.6 681.4 282.4 C681.9 283.2 682.9 284.7 683.4 284.4 C684.0 284.1 685.0 280.2 685.5 280.4 C685.9 280.5 686.6 284.2 687.0 285.4 C687.4 286.6 687.9 289.0 688.5 289.4 C689.0 289.9 690.8 288.5 691.0 288.4 C691.2 288.4 689.9 289.0 690.0 289.1 C690.1 289.3 691.5 289.5 692.0 289.6 C692.6 289.8 693.6 289.8 694.0 290.1 C694.4 290.4 694.8 291.4 695.0 291.8 C695.3 292.3 695.8 293.1 696.0 293.5 C696.3 293.9 696.7 294.8 697.1 295.2 C697.4 295.6 698.2 296.3 698.6 296.7 C699.0 297.1 699.8 297.8 700.1 298.2 C700.4 298.6 700.8 299.4 701.1 299.9 C701.4 300.3 701.8 301.1 702.1 301.6 C702.4 302.0 702.8 303.0 703.1 303.2 C703.5 303.5 704.2 303.6 704.6 303.8 C705.0 303.9 705.8 304.4 706.1 304.3 C706.5 304.1 706.8 303.0 707.0 302.6 C707.2 302.1 707.6 301.3 707.8 300.9 C708.1 300.5 708.5 299.7 708.7 299.2 C708.8 298.8 709.0 297.9 709.2 297.4 C709.3 297.0 709.5 296.2 709.7 295.7 C709.8 295.2 710.1 294.4 710.2 293.9 C710.3 293.4 710.5 292.6 710.7 292.1 C710.9 291.7 711.2 291.0 711.5 290.6 C711.7 290.2 712.0 289.1 712.2 289.1 C712.4 289.2 712.5 290.6 712.6 291.1 C712.7 291.7 712.9 292.6 713.0 293.2 C713.1 293.7 713.2 294.6 713.3 295.2 C713.4 295.7 713.6 296.7 713.7 297.2 C713.8 297.7 714.0 298.5 714.1 299.0 C714.2 299.4 714.4 300.3 714.5 300.7 C714.6 301.2 714.7 302.0 714.9 302.5 C715.0 303.0 715.0 303.8 715.2 304.3 C715.4 304.7 716.2 305.4 716.5 305.8 C716.8 306.2 717.4 306.9 717.8 307.3 C718.1 307.7 718.7 308.4 719.0 308.8 C719.3 309.2 720.0 309.9 720.3 310.3 C720.6 310.7 721.0 311.3 721.3 311.7 C721.5 312.0 722.0 312.7 722.3 313.0 C722.6 313.4 723.1 313.9 723.3 314.4 C723.5 314.8 723.9 315.6 724.1 316.0 C724.4 316.5 724.8 317.3 725.0 317.7 C725.2 318.2 725.6 319.4 725.8 319.4 C726.0 319.4 726.4 317.9 726.7 317.4 C726.9 316.8 727.3 315.9 727.5 315.4 C727.7 314.8 728.2 313.9 728.4 313.4 C728.5 312.8 728.7 311.9 728.9 311.3 C729.0 310.8 729.2 309.8 729.4 309.3 C729.5 308.8 729.7 307.8 729.9 307.3 C730.0 306.8 730.2 305.8 730.4 305.3 C730.5 304.8 730.9 304.0 731.0 303.6 C731.2 303.1 731.5 302.4 731.7 301.9 C731.9 301.5 732.2 300.3 732.4 300.2 C732.6 300.2 733.0 301.2 733.2 301.6 C733.4 301.9 733.8 302.6 734.1 302.9 C734.3 303.3 734.7 303.9 734.9 304.3 C735.1 304.6 735.5 305.3 735.7 305.6 C736.0 306.0 736.4 306.6 736.6 306.9 C736.8 307.3 737.2 307.9 737.4 308.3 C737.7 308.7 738.2 309.8 738.4 310.3 C738.7 310.9 739.1 312.2 739.5 312.3 C739.8 312.5 740.4 311.6 740.7 311.3 C741.0 311.1 741.7 310.3 742.0 310.3 C742.2 310.4 742.6 311.3 742.8 311.7 C743.0 312.0 743.4 312.7 743.6 313.0 C743.9 313.4 744.2 313.9 744.5 314.4 C744.7 314.8 745.2 315.8 745.5 316.4 C745.8 316.9 746.3 317.9 746.5 318.4 C746.7 318.9 746.8 319.7 746.9 320.2 C747.0 320.7 747.2 321.5 747.3 322.0 C747.4 322.5 747.6 323.4 747.7 323.8 C747.8 324.3 748.0 325.2 748.1 325.6 C748.2 326.1 748.4 327.5 748.5 327.5 C748.7 327.5 749.0 326.2 749.2 325.8 C749.4 325.3 749.7 324.6 749.9 324.1 C750.0 323.7 750.4 322.9 750.5 322.4 C750.7 322.0 751.0 321.1 751.2 320.7 C751.3 320.2 751.6 319.4 751.8 318.9 C752.0 318.4 752.3 317.6 752.4 317.1 C752.6 316.7 752.9 315.8 753.1 315.4 C753.2 314.9 753.5 314.1 753.7 313.6 C753.9 313.1 754.2 312.3 754.3 311.8 C754.5 311.4 754.8 310.5 755.0 310.1 C755.1 309.6 755.4 308.3 755.6 308.3 C755.8 308.3 756.1 309.8 756.4 310.3 C756.6 310.9 757.0 312.3 757.1 312.3 C757.2 312.3 757.3 310.9 757.4 310.3 C757.4 309.8 757.5 308.8 757.6 308.3 C757.7 307.8 757.8 306.8 757.9 306.3 C757.9 305.7 758.0 304.8 758.1 304.3 C758.2 303.7 758.3 302.8 758.4 302.2 C758.4 301.7 758.6 300.8 758.6 300.2 C758.7 299.7 758.7 298.7 758.8 298.2 C758.8 297.7 758.9 296.7 759.0 296.2 C759.0 295.7 759.1 294.7 759.1 294.2 C759.2 293.6 759.2 292.7 759.3 292.2 C759.3 291.6 759.4 290.7 759.5 290.1 C759.5 289.6 759.5 288.4 759.6 288.1 C759.8 287.9 760.5 287.9 760.6 288.1 C760.8 288.4 760.8 289.6 760.9 290.1 C761.0 290.7 761.1 291.6 761.1 292.2 C761.2 292.7 761.3 293.6 761.4 294.2 C761.5 294.7 761.6 295.7 761.6 296.2 C761.7 296.7 761.8 297.7 761.9 298.2 C762.0 298.7 762.1 299.7 762.1 300.2 C762.2 300.7 762.3 301.6 762.3 302.1 C762.3 302.6 762.4 303.5 762.4 304.0 C762.5 304.5 762.5 305.4 762.6 305.9 C762.6 306.4 762.7 307.2 762.7 307.7 C762.8 308.2 762.8 309.1 762.9 309.6 C762.9 310.1 763.0 311.0 763.0 311.5 C763.1 312.0 763.1 312.8 763.2 313.4 C763.2 313.9 763.3 314.8 763.3 315.4 C763.3 315.9 763.4 316.8 763.5 317.4 C763.5 317.9 763.6 318.9 763.6 319.4 C763.6 319.9 763.7 320.9 763.7 321.4 C763.8 322.0 763.8 322.9 763.9 323.4 C763.9 324.0 764.0 324.9 764.0 325.4 C764.1 326.0 764.1 327.0 764.2 327.5 C764.2 328.0 764.2 328.8 764.3 329.3 C764.3 329.8 764.3 330.7 764.3 331.2 C764.4 331.7 764.4 332.6 764.4 333.1 C764.5 333.6 764.5 334.5 764.5 335.0 C764.5 335.5 764.6 336.3 764.6 336.8 C764.6 337.3 764.7 338.2 764.7 338.7 C764.7 339.2 764.8 340.3 764.8 340.6" stroke="#000" stroke-width="3.55" fill="none" stroke-linejoin="round" stroke-linecap="butt" />
<path d="M843.4 370.3 C843.6 370.2 845.1 370.1 845.4 369.3 C845.7 368.4 846.5 361.3 846.6 360.2 C846.8 359.1 847.2 356.3 847.4 356.1 C847.6 356.0 848.7 357.2 848.9 358.2 C849.2 359.2 849.7 366.7 850.0 368.2 C850.2 369.8 851.2 376.2 851.5 377.3 C851.7 378.4 852.7 380.6 853.0 381.4 C853.2 382.1 854.2 386.3 854.5 386.4 C854.7 386.6 855.7 383.6 856.0 383.4 C856.3 383.2 857.3 383.4 857.5 383.9 C857.8 384.4 858.8 389.6 859.0 389.4 C859.3 389.3 860.2 383.4 860.5 382.4 C860.8 381.3 862.3 376.8 862.6 376.8 C862.9 376.8 863.8 381.2 864.1 382.4 C864.3 383.6 865.4 390.2 865.6 391.5 C865.8 392.7 866.4 397.4 866.6 397.0 C866.8 396.6 867.9 387.8 868.1 386.4 C868.3 385.1 868.9 381.2 869.1 380.9 C869.3 380.5 870.4 382.5 870.6 382.4 C870.9 382.3 871.9 380.2 872.1 379.9 C872.4 379.5 872.9 378.0 873.2 378.4 C873.4 378.7 874.5 383.5 874.7 384.4 C874.9 385.3 875.4 389.3 875.7 389.4 C875.9 389.6 877.4 387.3 877.7 385.9 C878.0 384.6 879.0 375.1 879.2 373.3 C879.5 371.5 880.5 365.2 880.7 364.7 C881.0 364.2 882.0 366.7 882.2 367.2 C882.5 367.8 883.5 370.7 883.8 370.8 C884.0 370.9 885.4 368.8 885.8 368.2 C886.1 367.7 887.5 364.6 887.8 364.7 C888.1 364.9 889.1 368.8 889.3 370.3 C889.5 371.7 890.1 380.4 890.3 382.4 C890.5 384.3 891.1 393.1 891.3 393.5 C891.6 393.9 893.0 387.2 893.3 387.4 C893.6 387.7 894.6 394.5 894.9 396.5 C895.1 398.6 895.8 411.5 896.0 411.9 C896.3 412.4 897.4 404.8 897.7 401.9 C898.0 399.0 899.1 379.9 899.4 376.8 C899.7 373.7 900.7 366.5 901.0 365.1 C901.4 363.7 902.8 360.0 903.0 360.1 C903.3 360.2 904.1 364.5 904.4 365.9 C904.7 367.3 906.6 376.3 906.9 376.8 C907.2 377.3 908.3 373.0 908.6 371.8 C908.8 370.6 910.0 362.5 910.2 362.6 C910.5 362.7 911.6 371.7 911.9 373.5 C912.2 375.2 913.2 381.9 913.6 383.5 C913.9 385.1 915.7 391.8 916.1 392.7 C916.4 393.6 917.4 395.2 917.8 394.4 C918.1 393.5 919.9 382.5 920.3 382.7 C920.6 382.9 921.4 394.4 921.6 396.9 C921.8 399.3 922.5 411.1 922.8 411.9 C923.0 412.7 924.2 408.6 924.5 406.9 C924.7 405.2 925.9 394.3 926.1 391.9 C926.4 389.4 927.1 378.0 927.3 377.6 C927.5 377.3 928.7 387.5 929.0 387.7 C929.2 387.9 930.1 380.6 930.3 380.1 C930.5 379.7 931.4 380.0 931.6 381.8 C931.9 383.6 933.0 401.0 933.3 401.9 C933.6 402.8 935.0 393.1 935.3 392.7 C935.6 392.3 936.7 396.2 937.0 396.9 C937.2 397.6 938.1 402.2 938.3 401.1 C938.6 399.9 939.8 383.8 940.0 383.5 C940.2 383.2 940.9 396.9 941.2 397.7 C941.4 398.5 942.6 393.0 942.8 392.7 C943.1 392.4 944.4 394.2 944.5 394.4" stroke="#000" stroke-width="3.3" fill="none" stroke-linejoin="round" stroke-linecap="butt" />
<path d="M674.4 270.8 L675.9 276.3 L677.9 272.3 L679.9 278.4 L681.4 282.4 L683.4 284.4 L685.5 280.4 L687.0 285.4 L688.5 289.4 L691.0 288.4 L693.0 287.4" stroke="#000" stroke-width="5.4" fill="none" stroke-linejoin="round" stroke-linecap="butt" />
<path d="M690.0 286.1 L694.0 285.1 L696.0 290.1 L700.1 291.1 L702.1 295.2 L705.1 295.7 L707.7 295.2 L710.2 287.1 L712.2 286.1 L714.2 298.2 L716.2 300.2 L720.3 305.3 L723.3 308.3 L725.3 310.3 L727.8 307.3 L730.4 300.2 L732.4 297.2 L734.9 300.2 L737.4 304.3 L740.5 305.3 L742.5 306.3 L745.0 310.3 L747.5 315.4 L749.5 319.4 L751.5 315.4 L754.6 306.3 L756.6 305.3 L758.6 288.1 L759.6 286.6 L761.1 286.6 L762.5 295.2 L763.7 305.3 L764.7 315.4 L765.3 331.5 L765.5 342.0 L763.5 342.0 L762.6 331.5 L761.9 323.4 L760.6 319.4 L758.6 322.4 L755.6 327.5 L752.6 328.5 L748.5 334.5 L745.5 320.4 L742.5 315.4 L739.5 319.4 L735.4 312.3 L733.4 308.3 L731.4 312.3 L728.9 320.4 L726.3 325.4 L724.3 322.4 L722.3 320.4 L719.3 320.4 L715.2 309.3 L712.7 308.3 L710.7 302.2 L708.2 308.3 L706.1 309.3 L703.1 310.3 L700.1 303.2 L696.0 300.2 L694.0 294.2 L690.0 293.2 Z" fill="#000" stroke="#000" stroke-width="0.6" stroke-linejoin="round"/>
</g>
<path d="M332.4 90.4 V217.3" stroke="#045cfc" stroke-width="3.2" stroke-dasharray="2.6 5.15" fill="none"/>
<path d="M720.3 202.4 V314.2" stroke="#045cfc" stroke-width="3.2" stroke-dasharray="2.6 5.15" fill="none"/>
<g clip-path="url(#cp)">
<path d="M149.4 172.8 C149.7 171.9 150.9 168.4 151.5 166.5 C152.1 164.6 153.1 161.9 153.7 160.2 C154.3 158.5 155.0 156.5 155.6 155.0 C156.2 153.5 156.8 151.6 157.4 150.0 C158.0 148.4 158.5 146.4 159.3 144.2 C160.1 142.0 161.5 137.6 162.5 135.1 C163.5 132.6 164.8 129.6 165.8 127.6 C166.8 125.6 168.0 123.1 169.0 121.6 C170.0 120.1 171.4 118.3 172.4 117.4 C173.4 116.5 174.5 116.0 175.4 115.5 C176.3 115.0 177.7 114.6 178.4 114.4 C179.1 114.2 179.5 114.2 180.1 114.2 C180.7 114.2 181.6 114.3 182.4 114.5 C183.2 114.7 184.1 114.9 185.2 115.4 C186.3 115.9 188.1 117.0 189.7 117.7 C191.3 118.5 193.7 119.5 195.7 120.4 C197.7 121.3 199.3 122.0 203.0 123.8 C206.7 125.6 215.1 130.2 220.2 132.7 C225.3 135.1 232.2 137.9 236.9 140.2 C241.7 142.4 247.7 145.7 252.0 147.7 C256.3 149.7 261.9 151.8 265.4 153.6 C268.9 155.3 272.6 157.9 275.4 159.4 C278.1 160.9 281.2 162.0 283.8 163.6 C286.3 165.2 289.6 168.0 292.1 170.3 C294.6 172.5 297.8 176.5 300.5 178.6 C303.1 180.8 307.6 182.8 309.7 184.5 C311.7 186.2 312.6 188.3 314.2 190.0 C315.8 191.7 318.1 194.1 320.1 195.8 C322.1 197.6 325.6 200.4 327.6 201.4 C329.6 202.4 331.8 201.7 333.4 202.5 C335.1 203.3 336.9 205.1 338.4 206.7 C340.0 208.3 341.8 211.4 343.5 213.4 C345.1 215.4 347.3 218.2 349.3 220.1 C351.3 222.0 355.0 224.2 356.8 225.9 C358.7 227.7 360.3 230.0 361.9 231.8 C363.4 233.5 365.4 236.0 366.9 237.6 C368.4 239.3 370.1 241.3 371.9 242.7 C373.6 244.0 376.6 245.4 378.6 246.5 C380.6 247.6 383.3 249.1 385.3 249.8 C387.3 250.6 390.3 250.8 391.9 251.5 C393.6 252.2 394.9 253.1 396.1 254.4 C397.4 255.7 399.0 258.4 400.3 260.2 C401.6 262.0 403.0 264.7 404.5 266.6 C406.0 268.4 408.8 270.8 410.3 272.8 C411.8 274.7 413.4 277.8 414.5 279.4 C415.6 281.1 416.5 282.6 417.9 283.9 C419.2 285.3 421.6 286.7 423.7 288.3 C425.8 289.9 430.9 293.5 432.1 294.5 C433.3 295.5 430.9 293.9 431.7 295.0 C432.5 296.1 435.5 299.8 437.5 301.7 C439.5 303.6 442.8 305.4 445.1 307.6 C447.3 309.7 450.3 314.0 452.6 315.9 C454.8 317.8 458.0 318.2 460.1 320.1 C462.2 322.0 464.8 327.0 466.8 328.8 C468.8 330.6 471.7 330.6 473.5 332.1 C475.2 333.6 477.1 337.6 478.5 338.8 C479.9 340.0 481.2 338.6 482.7 340.1 C484.2 341.7 487.1 347.5 488.5 349.4 C489.9 351.2 490.6 351.7 491.9 352.7 C493.1 353.7 495.4 354.8 496.9 356.0 C498.4 357.3 500.5 359.9 501.9 361.1 C503.3 362.2 504.8 363.4 506.1 363.6 C507.3 363.7 509.1 362.7 510.3 362.2 C511.4 361.7 512.6 361.8 513.6 360.2 C514.6 358.7 515.9 352.5 516.6 351.9 C517.4 351.2 517.9 354.3 518.6 356.0 C519.3 357.8 520.4 362.8 521.1 363.6 C521.9 364.3 522.9 362.2 523.6 361.1 C524.3 359.9 525.0 356.3 525.8 356.0 C526.6 355.8 527.8 359.3 528.6 359.4 C529.5 359.5 530.4 357.4 531.1 356.9 C531.9 356.3 532.7 354.8 533.3 355.5 C534.0 356.3 534.6 359.5 535.3 361.9 C536.1 364.2 537.3 370.0 538.3 371.1 C539.3 372.2 541.1 368.5 542.0 369.4 C542.9 370.3 543.7 374.8 544.5 376.9 C545.4 379.1 547.0 381.4 547.9 383.6 C548.7 385.9 549.9 390.7 550.4 392.0 C550.8 393.2 550.6 390.8 551.0 391.8 C551.3 392.8 551.8 397.5 552.7 398.5 C553.5 399.5 555.8 397.5 556.8 398.5 C557.8 399.5 558.6 403.0 559.4 405.2 C560.1 407.3 561.0 410.6 561.9 412.7 C562.7 414.8 563.7 418.9 564.7 419.4 C565.7 419.9 567.5 417.2 568.5 416.0 C569.6 414.9 571.4 412.5 571.9 411.9" stroke="#ff9d04" stroke-width="3.05" fill="none" stroke-linejoin="round" stroke-linecap="butt" />
</g>
<path d="M149.3 397.2 H977.0" stroke="#000" stroke-width="1.55" stroke-dasharray="2.4 5.35" fill="none"/>
<path d="M645.7 333.7 L544.6 285.4 L645.7 381.9" stroke="#5200ba" stroke-width="1.8" fill="none" stroke-linejoin="miter"/>
<text transform="translate(139.6,54.3) scale(1,1.03)" font-size="27.9" fill="#000" stroke="#000" stroke-width="0.5" text-anchor="end">10.00</text>
<text transform="translate(139.6,214.6) scale(1,1.03)" font-size="27.9" fill="#000" stroke="#000" stroke-width="0.5" text-anchor="end">1.00</text>
<text transform="translate(139.6,374.9) scale(1,1.03)" font-size="27.9" fill="#000" stroke="#000" stroke-width="0.5" text-anchor="end">0.10</text>
<text transform="translate(139.6,535.2) scale(1,1.03)" font-size="27.9" fill="#000" stroke="#000" stroke-width="0.5" text-anchor="end">0.01</text>
<text transform="translate(149.4,606.2) scale(1,1.03)" font-size="27.9" fill="#000" stroke="#000" stroke-width="0.5" text-anchor="middle">1</text>
<text transform="translate(485.4,606.2) scale(1,1.03)" font-size="27.9" fill="#000" stroke="#000" stroke-width="0.5" text-anchor="middle">10</text>
<text transform="translate(821.4,606.2) scale(1,1.03)" font-size="27.9" fill="#000" stroke="#000" stroke-width="0.5" text-anchor="middle">100</text>
<text transform="translate(563.3,647.8) scale(1,1.03)" font-size="28.6" fill="#000" stroke="#000" stroke-width="0.5" text-anchor="middle">arcsec</text>
<text transform="translate(38.5,444.6) rotate(-90) scale(1,1.03)" font-size="28.6" fill="#000" stroke="#000" stroke-width="0.5" text-anchor="start">Convergence,  4xN<tspan font-size="18.2" dy="8.5" dx="-2.9" stroke-width="0.35">gc</tspan><tspan dy="-8.5" dx="1.2">/</tspan><tspan dx="3.1" letter-spacing="0.6">kpc</tspan><tspan font-size="13.2" dy="-15.6" dx="-0.6" stroke-width="0.25">2</tspan></text>
<text transform="translate(688,48.2) scale(1,1.03)" font-size="21.4" fill="#045cfc" stroke="#045cfc" stroke-width="0.3" text-anchor="start" letter-spacing="0.11">Lensing Convergence</text>
<text transform="translate(688,78.1) scale(1,1.03)" font-size="21.4" fill="#000" stroke="#000" stroke-width="0.3" text-anchor="start" letter-spacing="0.2">Number globular clusters</text>
<text transform="translate(688,108) scale(1,1.03)" font-size="21.4" fill="#ff0000" stroke="#ff0000" stroke-width="0.3" text-anchor="start">GC density (Eq. 2)</text>
<text transform="translate(688,137.6) scale(1,1.03)" font-size="21.4" fill="#ff9d04" stroke="#ff9d04" stroke-width="0.3" text-anchor="start">Light (F444W, masked)</text>
<text transform="translate(383.5,392.4) scale(1,1.03)" font-size="17.5" fill="#000" stroke="#000" stroke-width="0.25" text-anchor="start">Contamination</text>
<text transform="translate(648.5,338) scale(1,1.03)" font-size="20.4" fill="#000" stroke="#000" stroke-width="0.4" text-anchor="start">R<tspan font-size="8.5" dy="-11.2" dx="-0.6" stroke-width="0.1">-1</tspan></text>
<text transform="translate(648.5,386) scale(1,1.03)" font-size="20.4" fill="#000" stroke="#000" stroke-width="0.4" text-anchor="start">R<tspan font-size="8.5" dy="-11.2" dx="-0.6" stroke-width="0.1">-2</tspan></text>
</svg>
</div>
</body></html>
